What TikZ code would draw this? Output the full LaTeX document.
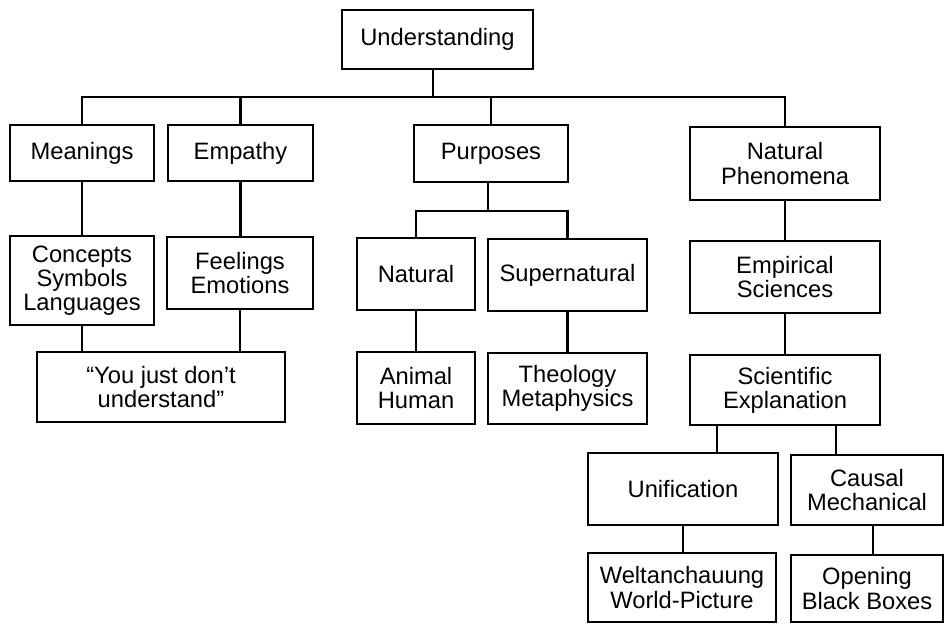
\documentclass[tikz,border=0pt]{standalone}
\usepackage{fontspec}
\setmainfont{Liberation Sans}
\usepackage{tikz}
\usetikzlibrary{positioning,calc}

\begin{document}
\begin{tikzpicture}[
  x=0.02cm, y=-0.02cm,
  conceptBox/.style={draw, line width=1.3pt, align=center, inner sep=0pt,
                     font=\fontsize{13.5}{13.8}\selectfont},
  boxSize/.style 2 args={minimum width=#1*0.02cm, minimum height=#2*0.02cm},
  link/.style={line width=1.4pt}
]
  \useasboundingbox (0,0) rectangle (944,626);

  % === Top level ===
  \node[conceptBox, boxSize={191}{59}] (und) at (437.5,39.5) {Understanding};
  \coordinate (bar) at (433,97);

  % === Meanings / Empathy branch ===
  \node[conceptBox, boxSize={144}{56}] (mean) at (82,153) {Meanings};
  \node[conceptBox, boxSize={145}{56}] (emp) at (240.5,153) {Empathy};
  \node[conceptBox, boxSize={144}{89}] (conc) at (82,280.5)
    {Concepts\\Symbols\\Languages};
  \node[conceptBox, boxSize={146}{72}] (feel) at (240,273)
    {Feelings\\Emotions};
  \node[conceptBox, boxSize={248}{70}] (you) at (161,387)
    {``You just don't\\understand''};

  % === Purposes branch ===
  \node[conceptBox, boxSize={154}{57}] (purp) at (491,153.5) {Purposes};
  \coordinate (purpBar) at (488,211);
  \node[conceptBox, boxSize={118}{72}] (nat) at (416,274) {Natural};
  \node[conceptBox, boxSize={159}{72}] (sup) at (567.5,275) {Supernatural};
  \node[conceptBox, boxSize={118}{72}] (anim) at (416,388) {Animal\\Human};
  \node[conceptBox, boxSize={159}{71}] (theo) at (567.5,388.5)
    {Theology\\Metaphysics};

  % === Natural phenomena branch ===
  \node[conceptBox, boxSize={190}{73}] (natph) at (785,163.5)
    {Natural\\Phenomena};
  \node[conceptBox, boxSize={190}{72}] (emps) at (785,277)
    {Empirical\\Sciences};
  \node[conceptBox, boxSize={190}{70}] (sci) at (785,390)
    {Scientific\\Explanation};
  \node[conceptBox, boxSize={190}{72}] (uni) at (683,489) {Unification};
  \node[conceptBox, boxSize={152}{70}] (caus) at (867,490)
    {Causal\\Mechanical};
  \node[conceptBox, boxSize={188}{69}] (welt) at (682,587.5)
    {Weltanchauung\\World-Picture};
  \node[conceptBox, boxSize={152}{67}] (open) at (867,588.5)
    {Opening\\Black Boxes};

  % === Connectors ===
  \draw[link] (und.south -| bar) -- (bar);
  \draw[link] (mean.north) |- (bar) -| (natph.north);
  \draw[link] (emp.north) -- (emp.north |- bar);
  \draw[link] (purp.north) -- (purp.north |- bar);

  \draw[link] (mean) -- (conc);
  \draw[link] (emp) -- (emp.south |- feel.north);
  \draw[link] (conc.south) -- (conc.south |- you.north);
  \draw[link] (feel.south) -- (feel.south |- you.north);

  \draw[link] (purp.south -| purpBar) -- (purpBar);
  \draw[link] (nat.north) |- (purpBar) -| (sup.north);
  \draw[link] (nat) -- (anim);
  \draw[link] (sup) -- (theo);

  \draw[link] (natph) -- (emps);
  \draw[link] (emps) -- (sci);
  \path (sci.south west) ++(28,0) coordinate (sciL)
        (sci.south west) ++(147,0) coordinate (sciR)
        (caus.south) ++(6,0) coordinate (causD);
  \draw[link] (sciL) -- (sciL |- uni.north);
  \draw[link] (sciR) -- (sciR |- caus.north);
  \draw[link] (uni) -- (welt.north -| uni.south);
  \draw[link] (causD) -- (causD |- open.north);
\end{tikzpicture}
\end{document}
